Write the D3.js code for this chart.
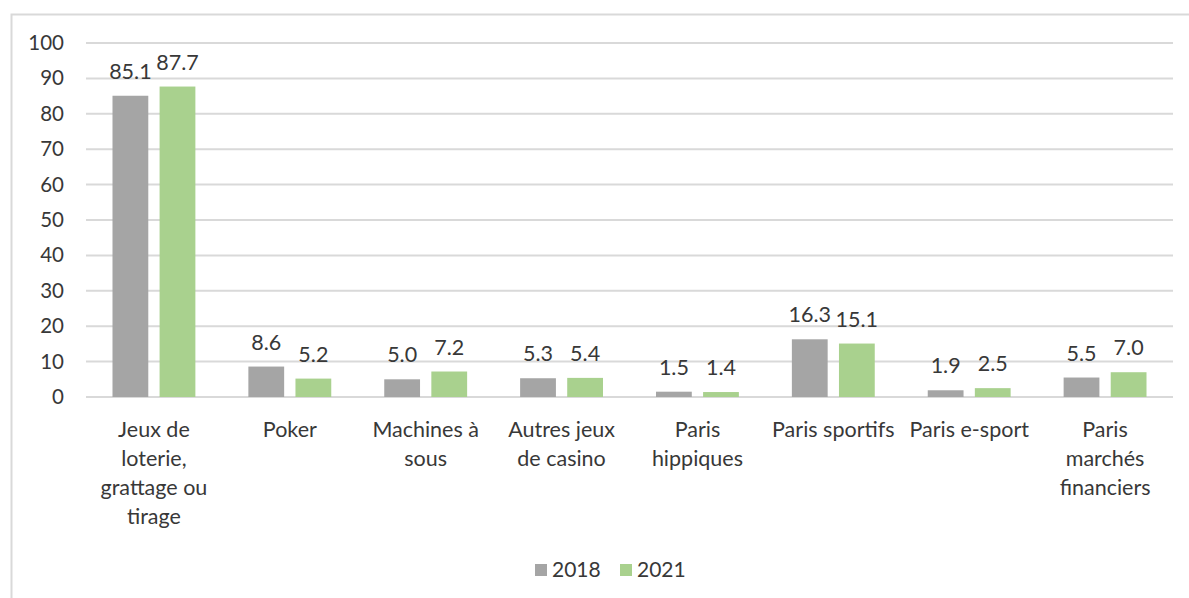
<!DOCTYPE html>
<html lang="fr">
<head>
  <meta charset="UTF-8" />
  <title>Jeux 2018 / 2021</title>
  <script src="https://d3js.org/d3.v7.min.js"></script>
  <style>
    body { margin: 0; background: #fff; }
    svg { display: block; font-family: Lato, "Open Sans", sans-serif; }
  </style>
</head>
<body>
  <div id="chart"></div>
  <script>
    // ----- Data -----
    const categories = [
      "Jeux de\nloterie,\ngrattage ou\ntirage",
      "Poker",
      "Machines à\nsous",
      "Autres jeux\nde casino",
      "Paris\nhippiques",
      "Paris sportifs",
      "Paris e-sport",
      "Paris\nmarchés\nfinanciers"
    ];
    const series = ["2018", "2021"];
    const values2018 = [85.1, 8.6, 5.0, 5.3, 1.5, 16.3, 1.9, 5.5];
    const values2021 = [87.7, 5.2, 7.2, 5.4, 1.4, 15.1, 2.5, 7.0];
    const yTicks = [0, 10, 20, 30, 40, 50, 60, 70, 80, 90, 100];
    const colors = ["#a5a5a5", "#a9d18e"];

    const W = 1189, H = 598;
    const plot = { left: 86, right: 1173, top: 43, bottom: 397 };
    const textColor = '#383838';

    const svg = d3.select('#chart').append('svg')
      .attr('width', W).attr('height', H);

    // chart frame (left and top edge visible)
    svg.append('rect')
      .attr('x', 11.5).attr('y', 14.5)
      .attr('width', W + 10).attr('height', H + 10)
      .attr('fill', 'none').attr('stroke', '#d9d9d9').attr('stroke-width', 2);

    // ----- Scales -----
    const x0 = d3.scaleBand()
      .domain(d3.range(categories.length))
      .range([plot.left, plot.right])
      .paddingInner(0).paddingOuter(0);
    const x1 = d3.scaleBand()
      .domain(series)
      .range([x0.bandwidth() * 0.195, x0.bandwidth() * 0.805])
      .paddingInner(0.24);
    const y = d3.scaleLinear().domain([0, 100]).range([plot.bottom, plot.top]);

    // ----- Gridlines -----
    svg.append('g').selectAll('line').data(yTicks).join('line')
      .attr('x1', plot.left).attr('x2', plot.right)
      .attr('y1', d => y(d)).attr('y2', d => y(d))
      .attr('stroke', '#d9d9d9').attr('stroke-width', 2);

    // ----- Y axis labels -----
    const yAxis = svg.append('g')
      .attr('transform', `translate(${plot.left - 22},0)`)
      .call(d3.axisLeft(y).tickValues(yTicks).tickSize(0).tickPadding(0));
    yAxis.select('.domain').remove();
    yAxis.selectAll('text')
      .attr('font-size', 20.5).attr('fill', textColor)
      .attr('font-family', 'Lato, "Open Sans", sans-serif');

    // ----- Bars -----
    const rows = categories.map((c, i) => ({ i, vals: [values2018[i], values2021[i]] }));
    const groups = svg.append('g').selectAll('g').data(rows).join('g')
      .attr('transform', d => `translate(${x0(d.i)},0)`);

    groups.selectAll('rect')
      .data(d => d.vals.map((v, k) => ({ s: series[k], v, k })))
      .join('rect')
      .attr('x', d => x1(d.s))
      .attr('width', x1.bandwidth())
      .attr('y', d => y(d.v))
      .attr('height', d => y(0) - y(d.v))
      .attr('fill', d => colors[d.k]);

    groups.selectAll('text.val')
      .data(d => d.vals.map((v, k) => ({ s: series[k], v, k })))
      .join('text')
      .attr('class', 'val')
      .attr('x', d => x1(d.s) + x1.bandwidth() / 2)
      .attr('y', d => y(d.v) - 17)
      .attr('text-anchor', 'middle')
      .attr('font-size', 21.5).attr('fill', textColor)
      .text(d => d.v.toFixed(1));

    // ----- Category labels -----
    const cat = svg.append('g').selectAll('text').data(categories).join('text')
      .attr('x', (d, i) => x0(i) + x0.bandwidth() / 2)
      .attr('y', 437)
      .attr('text-anchor', 'middle')
      .attr('font-size', 21.5).attr('fill', textColor);
    cat.selectAll('tspan').data(d => d.split('\n')).join('tspan')
      .attr('x', function () { return this.parentNode.getAttribute('x'); })
      .attr('dy', (d, i) => i === 0 ? 0 : 29)
      .text(d => d);

    // ----- Legend -----
    const legend = svg.append('g').attr('transform', 'translate(535,570)');
    const li = legend.selectAll('g').data(series).join('g')
      .attr('transform', (d, i) => `translate(${i * 85},0)`);
    li.append('rect')
      .attr('x', 0).attr('y', -6).attr('width', 12).attr('height', 12)
      .attr('fill', (d, i) => colors[i]);
    li.append('text')
      .attr('x', 17).attr('y', 7)
      .attr('font-size', 21).attr('fill', textColor)
      .text(d => d);
  </script>
</body>
</html>
